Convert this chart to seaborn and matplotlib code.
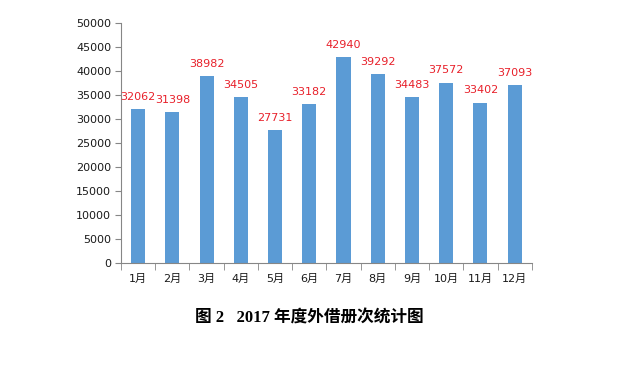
import matplotlib
matplotlib.use("Agg")
import matplotlib.pyplot as plt
import seaborn as sns
import numpy as np
import pandas as pd

# data
months = ['1月', '2月', '3月', '4月', '5月', '6月', '7月', '8月', '9月', '10月', '11月', '12月']
loans = [32062, 31398, 38982, 34505, 27731, 33182, 42940, 39292, 34483, 37572, 33402, 37093]
title = '图 2   2017 年度外借册次统计图'

df = pd.DataFrame({'month': months, 'loans': loans})

sns.set_style('white')
plt.rcParams['font.family'] = ['DejaVu Sans', 'Noto Sans CJK SC']

fig = plt.figure(figsize=(6.28, 3.80), dpi=100)
ax = fig.add_axes([0.1927, 0.308, 0.654, 0.6315])

sns.barplot(data=df, x='month', y='loans', color='#5B9BD5', saturation=1,
            width=0.41, linewidth=0, ax=ax)

# value labels
for i, v in enumerate(loans):
    ax.text(i, v + 1500, str(v), ha='center', va='bottom', color='#E8202A',
            fontsize=8)

ax.set_xlim(-0.5, len(months) - 0.5)
ax.set_ylim(0, 50000)
ax.set_yticks(np.arange(0, 50001, 5000))
ax.set_xlabel('')
ax.set_ylabel('')

for s in ['top', 'right']:
    ax.spines[s].set_visible(False)
for s in ['left', 'bottom']:
    ax.spines[s].set_color('#868686')
    ax.spines[s].set_linewidth(0.8)

ax.tick_params(axis='y', length=4, color='#868686', labelsize=8, pad=3,
               left=True, labelcolor='#1a1a1a')
ax.tick_params(axis='x', which='major', length=0, labelsize=8, pad=8,
               labelcolor='#1a1a1a')
ax.set_xticks(np.arange(-0.5, len(months), 1), minor=True)
ax.tick_params(axis='x', which='minor', length=5, color='#868686', bottom=True)

fig.text(0.492, 0.163, title, ha='center', va='center', fontsize=12,
         fontweight='bold', color='black',
         family=['Liberation Serif', 'Noto Sans CJK SC'])

fig.savefig('out.png', dpi=100)
